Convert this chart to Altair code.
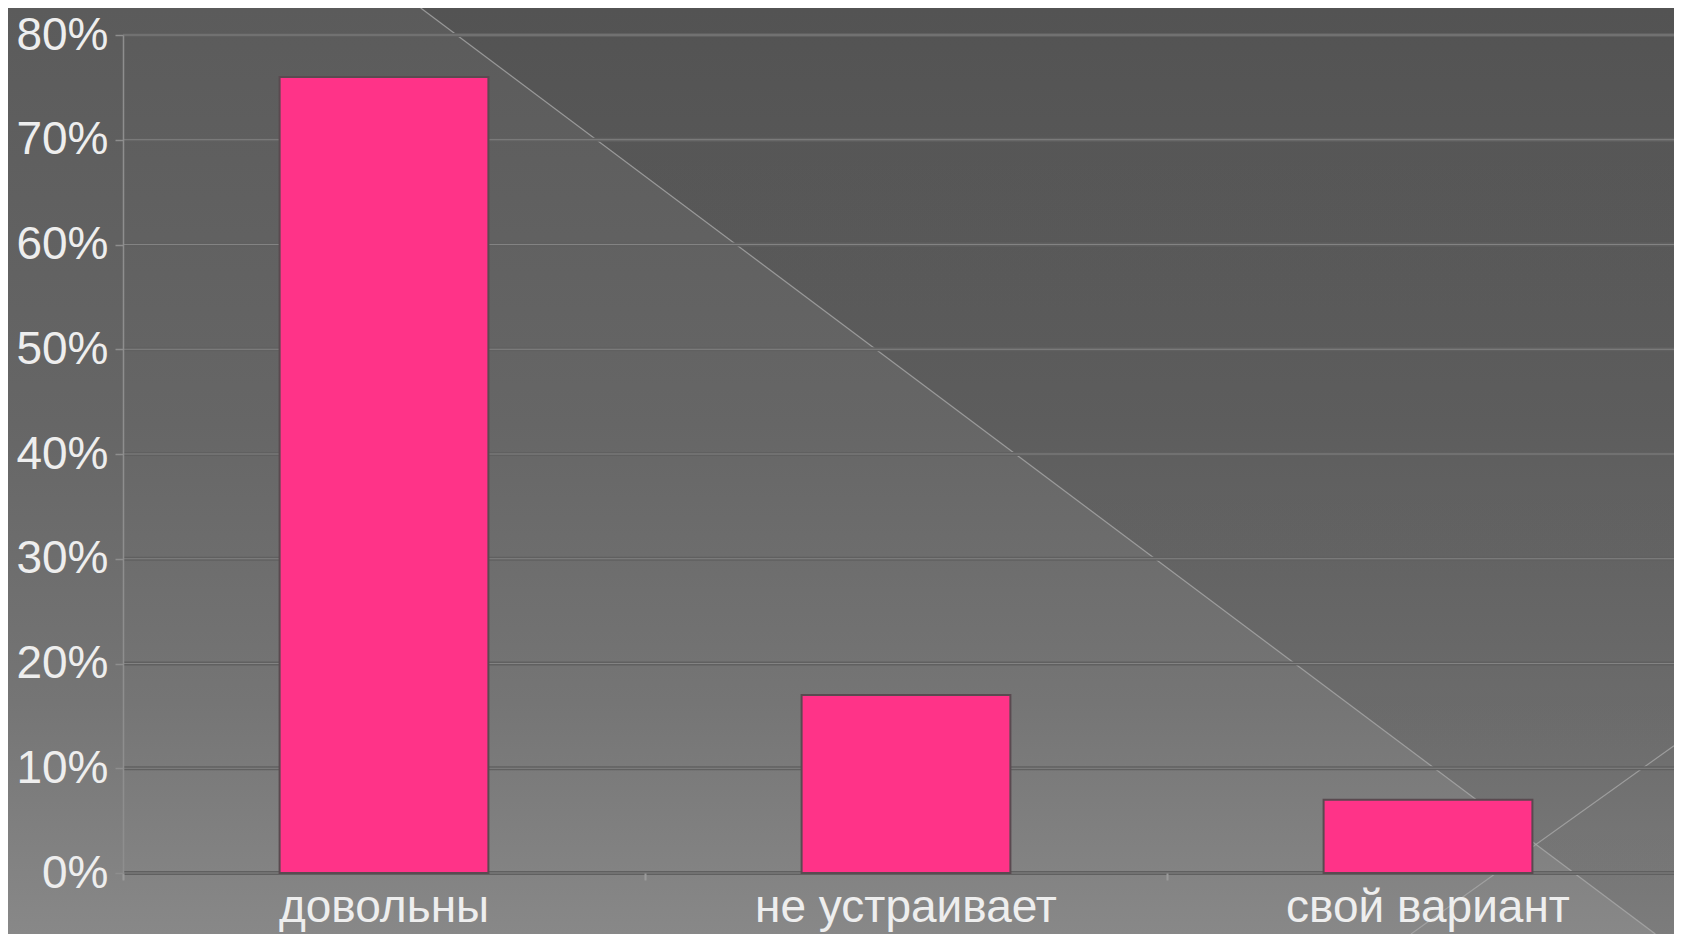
import altair as alt
import pandas as pd

# ---- data ----
categories = ["довольны", "не устраивает", "свой вариант"]
values = [0.76, 0.17, 0.07]
y_ticks = [0.0, 0.1, 0.2, 0.3, 0.4, 0.5, 0.6, 0.7, 0.8]

bars_df = pd.DataFrame({"cat": categories, "v": values})
grid_df = pd.DataFrame({"v": y_ticks})
one_df = pd.DataFrame({"k": [0]})

W, H = 1551, 838
PAD_L, PAD_T, PAD_B = 115, 27, 61
FONT = "Liberation Sans"

y_scale = alt.Scale(domain=[0, 0.8], nice=False, zero=True)
y_axis = alt.Axis(
    title=None,
    values=y_ticks,
    format=".0%",
    grid=False,
    domain=True,
    domainColor="#8e8e8e",
    domainWidth=1.5,
    ticks=True,
    tickColor="#8e8e8e",
    tickSize=8,
    tickWidth=1.5,
    labelPadding=7,
    labelFontSize=46,
    labelFont=FONT,
    labelColor="#eeeeee",
    zindex=1,
)

# ---- slide background (vertical gradient) ----
bg = alt.Chart(one_df).mark_rect(
    fill=alt.LinearGradient(
        gradient="linear",
        x1=0, y1=0, x2=0, y2=1,
        stops=[
            alt.GradientStop(color="#5b5b5b", offset=0),
            alt.GradientStop(color="#666666", offset=0.45),
            alt.GradientStop(color="#757575", offset=0.75),
            alt.GradientStop(color="#888888", offset=1),
        ],
    )
).encode(
    x=alt.value(-PAD_L), x2=alt.value(W), y=alt.value(-PAD_T), y2=alt.value(H + PAD_B)
)

# darker upper-right triangle of the slide template
shade = alt.Chart(one_df).mark_rect(
    fill=alt.LinearGradient(
        gradient="linear",
        x1=0, y1=1, x2=1.1239, y2=0.1671,
        stops=[
            alt.GradientStop(color="rgba(0,0,0,0)", offset=0),
            alt.GradientStop(color="rgba(0,0,0,0)", offset=0.5679),
            alt.GradientStop(color="rgba(0,0,0,0.09)", offset=0.5686),
            alt.GradientStop(color="rgba(0,0,0,0.09)", offset=1),
        ],
    )
).encode(
    x=alt.value(-PAD_L), x2=alt.value(W), y=alt.value(-PAD_T), y2=alt.value(H + PAD_B)
)

# decorative thin diagonal lines of the template
diag1 = alt.Chart(one_df).mark_rule(color="#a8a8a8", strokeWidth=1.2, opacity=0.8).encode(
    x=alt.value(297.7), x2=alt.value(1532.3), y=alt.value(-PAD_T), y2=alt.value(H + PAD_B)
)
diag2 = alt.Chart(one_df).mark_rule(color="#a8a8a8", strokeWidth=1.2, opacity=0.8).encode(
    x=alt.value(W), x2=alt.value(1288), y=alt.value(710.7), y2=alt.value(H + PAD_B)
)

# ---- gridlines (dark band with light centre line) ----
grid_dark = alt.Chart(grid_df).mark_rule(color="#606060", strokeWidth=4).encode(
    y=alt.Y("v:Q", scale=y_scale, axis=y_axis)
)
grid_light = alt.Chart(grid_df).mark_rule(color="white", opacity=0.22, strokeWidth=1).encode(
    y=alt.Y("v:Q", scale=y_scale, axis=y_axis)
)

# ---- bars ----
bars = alt.Chart(bars_df).mark_bar(
    width=alt.RelativeBandSize(band=0.4),
    fill="#ff3388",
    stroke="#5a4a50",
    strokeWidth=2,
).encode(
    x=alt.X(
        "cat:N",
        sort=categories,
        scale=alt.Scale(domain=categories, range=[0, 1566], paddingInner=0, paddingOuter=0),
        axis=alt.Axis(
            title=None,
            domain=False,
            grid=False,
            ticks=True,
            bandPosition=0,
            tickSize=7,
            tickWidth=2,
            tickColor="#9a9a9a",
            labelAngle=0,
            labelPadding=5,
            labelLimit=0,
            labelOverlap=False,
            labelFontSize=46,
            labelFont=FONT,
            labelColor="#eeeeee",
            zindex=1,
        ),
    ),
    y=alt.Y("v:Q", scale=y_scale, axis=y_axis),
)

chart = alt.layer(bg, shade, diag1, diag2, grid_dark, grid_light, bars).properties(
    width=W,
    height=H,
    autosize=alt.AutoSizeParams(type="none"),
    padding={"left": PAD_L, "top": PAD_T, "right": 0, "bottom": PAD_B},
    background="#6a6a6a",
).configure_view(stroke=None)

chart.save("out.html", embed_options={"renderer": "svg", "actions": False})
